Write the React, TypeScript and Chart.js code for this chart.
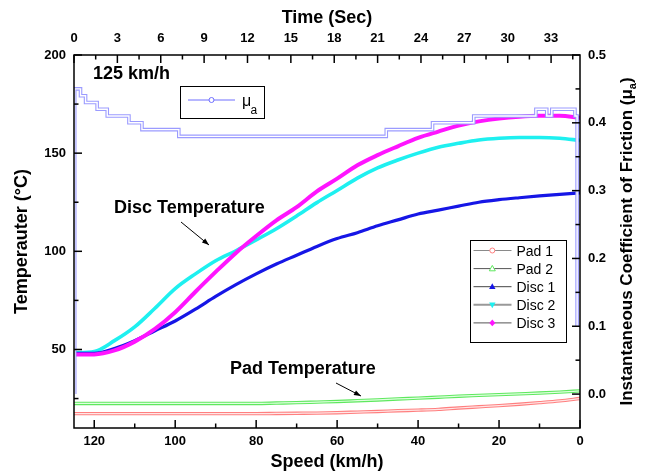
import React, { useEffect, useRef } from 'react';
import { Chart, registerables } from 'chart.js';

Chart.register(...registerables);

// ---------- data ----------
const speedKmh = [125, 120, 115, 110, 105, 100, 95, 90, 85, 80, 75, 70, 65, 60, 55, 50, 45, 40, 35, 30, 25, 20, 15, 10, 5, 0];
const pad1Temp = [17.3, 17.3, 17.3, 17.3, 17.3, 17.3, 17.3, 17.3, 17.3, 17.3, 17.4, 17.5, 17.6, 17.8, 18.1, 18.4, 18.8, 19.1, 19.5, 20.2, 20.8, 21.4, 22.1, 22.9, 23.8, 25.0];
const pad2Temp = [22.5, 22.5, 22.5, 22.5, 22.5, 22.5, 22.5, 22.5, 22.5, 22.5, 22.7, 22.9, 23.2, 23.5, 23.9, 24.3, 24.8, 25.2, 25.7, 26.2, 26.6, 27.0, 27.4, 27.8, 28.3, 28.9];
const disc1Temp = [48, 48, 50.5, 54.5, 59.5, 64.5, 70.5, 77, 83, 88.5, 93.5, 98, 102.5, 106.5, 109.5, 113, 116, 119, 121, 123, 125, 126.3, 127.3, 128.2, 129, 129.8];
const disc2Temp = [48.4, 49, 54.5, 61.5, 71, 81, 88.5, 95.2, 100.3, 105.8, 111.5, 118, 124.8, 131, 137.3, 142.5, 146.5, 150, 153, 155, 156.7, 157.6, 158, 158, 157.6, 156.5];
const disc3Temp = [47.5, 47.5, 49.5, 54, 60.5, 69, 79.4, 89.5, 99.2, 107.8, 115.8, 122.5, 130.5, 137, 143.8, 149, 153.5, 157.8, 161, 164, 166.2, 167.7, 168.6, 169, 169, 168];

const muTimeSec = [0.05, 0.05, 0.45, 0.8, 1.6, 2.3, 3.8, 4.7, 7.25, 21.6, 24.8, 27.65, 31.95, 32.7, 33.05, 34.65, 34.8, 34.8, 34.8, 34.8];
const muValue = [0.0, 0.45, 0.44, 0.43, 0.42, 0.41, 0.40, 0.39, 0.38, 0.39, 0.40, 0.41, 0.42, 0.41, 0.42, 0.41, 0.41, 0.32, 0.19, 0.10];

const speedTicks = [0, 20, 40, 60, 80, 100, 120];
const timeTicks = [0, 3, 6, 9, 12, 15, 18, 21, 24, 27, 30, 33];
const tempTicks = [50, 100, 150, 200];
const muTicks = [0, 0.1, 0.2, 0.3, 0.4, 0.5];

const seriesNames = ['Pad 1', 'Pad 2', 'Disc 1', 'Disc 2', 'Disc 3'];

// ---------- styling ----------
const FONT = "'Liberation Sans', Arial, Helvetica, sans-serif";
const MU_COLOR = '#9b9bff';
const PAD1_COLOR = '#ff7f7f';
const PAD2_COLOR = '#5fe85f';
const DISC1_COLOR = '#1616e6';
const DISC2_COLOR = '#1ef0f0';
const DISC3_COLOR = '#ff14ff';

const pts = (xs: number[], ys: number[]) => xs.map((x, i) => ({ x, y: ys[i] }));
const near = (list: number[], v: number) => list.some((t) => Math.abs(t - v) < 1e-6);

function arrow(ctx: CanvasRenderingContext2D, x1: number, y1: number, x2: number, y2: number) {
  ctx.beginPath();
  ctx.moveTo(x1, y1);
  ctx.lineTo(x2, y2);
  ctx.stroke();
  const ang = Math.atan2(y2 - y1, x2 - x1);
  const L = 7, W = 2.6;
  ctx.beginPath();
  ctx.moveTo(x2, y2);
  ctx.lineTo(x2 - L * Math.cos(ang) + W * Math.sin(ang), y2 - L * Math.sin(ang) - W * Math.cos(ang));
  ctx.lineTo(x2 - L * Math.cos(ang) - W * Math.sin(ang), y2 - L * Math.sin(ang) + W * Math.cos(ang));
  ctx.closePath();
  ctx.fill();
}

function marker(ctx: CanvasRenderingContext2D, kind: string, x: number, y: number, color: string) {
  ctx.save();
  ctx.lineWidth = 1;
  ctx.strokeStyle = color;
  ctx.fillStyle = color;
  ctx.beginPath();
  if (kind === 'circle') {
    ctx.arc(x, y, 2.5, 0, Math.PI * 2);
    ctx.fillStyle = '#fff';
    ctx.fill();
    ctx.stroke();
  } else if (kind === 'triOpen') {
    ctx.moveTo(x, y - 3.2); ctx.lineTo(x + 3, y + 2.2); ctx.lineTo(x - 3, y + 2.2); ctx.closePath();
    ctx.fillStyle = '#fff'; ctx.fill(); ctx.stroke();
  } else if (kind === 'tri') {
    ctx.moveTo(x, y - 3.4); ctx.lineTo(x + 3.2, y + 2.4); ctx.lineTo(x - 3.2, y + 2.4); ctx.closePath(); ctx.fill();
  } else if (kind === 'triDown') {
    ctx.moveTo(x, y + 3.4); ctx.lineTo(x + 3.2, y - 2.4); ctx.lineTo(x - 3.2, y - 2.4); ctx.closePath(); ctx.fill();
  } else {
    ctx.moveTo(x, y - 3.4); ctx.lineTo(x + 3, y); ctx.lineTo(x, y + 3.4); ctx.lineTo(x - 3, y); ctx.closePath(); ctx.fill();
  }
  ctx.restore();
}

const decor = {
  id: 'decor',
  afterDatasetsDraw(chart: any) {
    const { ctx, chartArea: a, scales } = chart;
    ctx.save();
    // frame
    ctx.strokeStyle = '#000';
    ctx.lineWidth = 1.5;
    ctx.strokeRect(a.left, a.top, a.right - a.left, a.bottom - a.top);

    const drawTicks = (scale: any, majors: number[], side: string) => {
      const step = majors[1] - majors[0];
      const lo = Math.min(scale.min, scale.max), hi = Math.max(scale.min, scale.max);
      const minors: number[] = [];
      majors.forEach((m, i) => {
        if (i === 0 && m - step / 2 > lo + 1e-9) minors.push(m - step / 2);
        if (m + step / 2 < hi - 1e-9) minors.push(m + step / 2);
      });
      const one = (v: number, len: number) => {
        const p = scale.getPixelForValue(v);
        ctx.beginPath();
        if (side === 'bottom') { ctx.moveTo(p, a.bottom); ctx.lineTo(p, a.bottom - len); }
        if (side === 'top') { ctx.moveTo(p, a.top); ctx.lineTo(p, a.top + len); }
        if (side === 'left') { ctx.moveTo(a.left, p); ctx.lineTo(a.left + len, p); }
        if (side === 'right') { ctx.moveTo(a.right, p); ctx.lineTo(a.right - len, p); }
        ctx.stroke();
      };
      majors.forEach((v) => one(v, 8));
      minors.forEach((v) => one(v, 4.5));
    };
    drawTicks(scales.x, speedTicks, 'bottom');
    drawTicks(scales.x2, timeTicks, 'top');
    drawTicks(scales.y, tempTicks, 'left');
    drawTicks(scales.y2, muTicks, 'right');

    // right axis title (reads bottom to top)
    ctx.save();
    ctx.fillStyle = '#000';
    ctx.translate(632, (a.top + a.bottom) / 2);
    ctx.rotate(-Math.PI / 2);
    const main = 'Instantaneous Coefficient of Friction (\u03bc';
    const bigF = `bold 17px ${FONT}`;
    const smallF = `bold 11px ${FONT}`;
    ctx.font = bigF;
    const w1 = ctx.measureText(main).width;
    const w3 = ctx.measureText(')').width;
    ctx.font = smallF;
    const w2 = ctx.measureText('a').width;
    const x0 = -(w1 + w2 + w3) / 2;
    ctx.textBaseline = 'alphabetic';
    ctx.textAlign = 'left';
    ctx.font = bigF;
    ctx.fillText(main, x0, 0);
    ctx.font = smallF;
    ctx.fillText('a', x0 + w1, 4);
    ctx.font = bigF;
    ctx.fillText(')', x0 + w1 + w2, 0);
    ctx.restore();

    // annotations
    ctx.fillStyle = '#000';
    ctx.textAlign = 'left';
    ctx.textBaseline = 'alphabetic';
    ctx.font = `bold 18px ${FONT}`;
    ctx.fillText('125 km/h', 93, 79);
    ctx.fillText('Disc Temperature', 114, 212.5);
    ctx.fillText('Pad Temperature', 230, 374);
    ctx.lineWidth = 1;
    ctx.strokeStyle = '#000';
    arrow(ctx, 181, 222, 209, 245);
    arrow(ctx, 336, 383, 361, 396);

    // mu legend
    ctx.fillStyle = '#fff';
    ctx.fillRect(180.5, 86.5, 84, 32);
    ctx.lineWidth = 1;
    ctx.strokeStyle = '#000';
    ctx.strokeRect(180.5, 86.5, 84, 32);
    ctx.strokeStyle = '#6f6fff';
    ctx.beginPath(); ctx.moveTo(188, 100); ctx.lineTo(235, 100); ctx.stroke();
    marker(ctx, 'circle', 211.5, 100, '#6f6fff');
    ctx.fillStyle = '#000';
    ctx.font = `16px ${FONT}`;
    ctx.fillText('\u03bc', 242, 106);
    ctx.font = `12px ${FONT}`;
    ctx.fillText('a', 250.5, 114);

    // series legend
    ctx.fillStyle = '#fff';
    ctx.fillRect(470.5, 240.5, 96, 102);
    ctx.strokeStyle = '#000';
    ctx.strokeRect(470.5, 240.5, 96, 102);
    const lineCols = ['#8a8a8a', '#555', '#444', '#999', '#555'];
    const lineW = [1, 1, 1, 2, 1];
    const kinds = ['circle', 'triOpen', 'tri', 'triDown', 'diamond'];
    const mcols = [PAD1_COLOR, PAD2_COLOR, DISC1_COLOR, DISC2_COLOR, DISC3_COLOR];
    seriesNames.forEach((name, i) => {
      const y = 250.5 + i * 18.1;
      ctx.strokeStyle = lineCols[i];
      ctx.lineWidth = lineW[i];
      ctx.beginPath(); ctx.moveTo(473.5, y); ctx.lineTo(511.5, y); ctx.stroke();
      marker(ctx, kinds[i], 492.3, y, mcols[i]);
      ctx.fillStyle = '#000';
      ctx.font = `14px ${FONT}`;
      ctx.fillText(name, 516.5, y + 5);
    });
    ctx.restore();
  },
};

const tickFont = { family: FONT, size: 13, weight: 'bold' as const };
const titleFont = { family: FONT, size: 18, weight: 'bold' as const };

export default function App() {
  const ref = useRef<HTMLCanvasElement>(null);
  useEffect(() => {
    const canvas = ref.current;
    if (!canvas) return;
    const tempDs = (label: string, ys: number[], color: string, width: number) => ({
      label, data: pts(speedKmh, ys), xAxisID: 'x', yAxisID: 'y',
      borderColor: color, borderWidth: width, pointRadius: 0, fill: false,
      cubicInterpolationMode: 'monotone' as const,
    });
    const datasets: any[] = [
      { label: 'mu inner', data: pts(muTimeSec, muValue), xAxisID: 'x2', yAxisID: 'y2', borderColor: '#ffffff', borderWidth: 1.4, pointRadius: 0, stepped: true, fill: false },
      { label: 'mu', data: pts(muTimeSec, muValue), xAxisID: 'x2', yAxisID: 'y2', borderColor: MU_COLOR, borderWidth: 3.6, pointRadius: 0, stepped: true, fill: false },
      tempDs('Disc 3', disc3Temp, DISC3_COLOR, 4),
      tempDs('Disc 1', disc1Temp, DISC1_COLOR, 3.2),
      tempDs('Disc 2', disc2Temp, DISC2_COLOR, 3.6),
      tempDs('Pad 2 inner', pad2Temp, '#e0ffe0', 1.2),
      tempDs('Pad 2', pad2Temp, PAD2_COLOR, 3.4),
      tempDs('Pad 1 inner', pad1Temp, '#ffe6e6', 1.2),
      tempDs('Pad 1', pad1Temp, PAD1_COLOR, 3.4),
    ];
    const hideOff = (list: number[], fmt: (v: number) => string) => (v: any) => (near(list, Number(v)) ? fmt(Number(v)) : '');
    const chart = new Chart(canvas, {
      type: 'line',
      data: { datasets },
      plugins: [decor],
      options: {
        responsive: false,
        animation: false,
        layout: { padding: 0 },
        plugins: { legend: { display: false }, tooltip: { enabled: false } },
        scales: {
          x: {
            type: 'linear', position: 'bottom', reverse: true, min: 0, max: 125,
            ticks: { stepSize: 20, includeBounds: false, padding: 6, font: tickFont, color: '#000', maxRotation: 0, autoSkip: false, callback: hideOff(speedTicks, (v) => String(v)) },
            grid: { display: false, drawTicks: false }, border: { display: false },
            title: { display: true, text: 'Speed (km/h)', font: titleFont, color: '#000', padding: { top: 0, bottom: 1 } },
            afterFit: (s: any) => { s.height = 46; },
          },
          x2: {
            type: 'linear', position: 'top', min: 0, max: 35,
            ticks: { stepSize: 3, includeBounds: false, padding: 9, font: tickFont, color: '#000', maxRotation: 0, autoSkip: false, callback: hideOff(timeTicks, (v) => String(v)) },
            grid: { display: false, drawTicks: false }, border: { display: false },
            title: { display: true, text: 'Time (Sec)', font: titleFont, color: '#000', padding: { top: 7, bottom: 0 } },
            afterFit: (s: any) => { s.height = 55; },
          },
          y: {
            type: 'linear', position: 'left', min: 10, max: 200,
            ticks: { stepSize: 50, includeBounds: false, padding: 8, font: tickFont, color: '#000', callback: hideOff(tempTicks, (v) => String(v)) },
            grid: { display: false, drawTicks: false }, border: { display: false },
            title: { display: true, text: 'Temperauter (\u00b0C)', font: titleFont, color: '#000', padding: { top: 11, bottom: 0 } },
            afterFit: (s: any) => { s.width = 74; },
          },
          y2: {
            type: 'linear', position: 'right', min: -0.05, max: 0.5,
            ticks: { stepSize: 0.1, includeBounds: false, padding: 8, font: tickFont, color: '#000', callback: hideOff(muTicks, (v) => v.toFixed(1)) },
            grid: { display: false, drawTicks: false }, border: { display: false },
            title: { display: false },
            afterFit: (s: any) => { s.width = 65; },
          },
        },
      } as any,
    });
    return () => chart.destroy();
  }, []);
  return (
    <div style={{ position: 'fixed', left: 0, top: 0, width: 645, height: 474, background: '#fff' }}>
      <canvas ref={ref} width={645} height={474} style={{ display: 'block', width: 645, height: 474 }} />
    </div>
  );
}
